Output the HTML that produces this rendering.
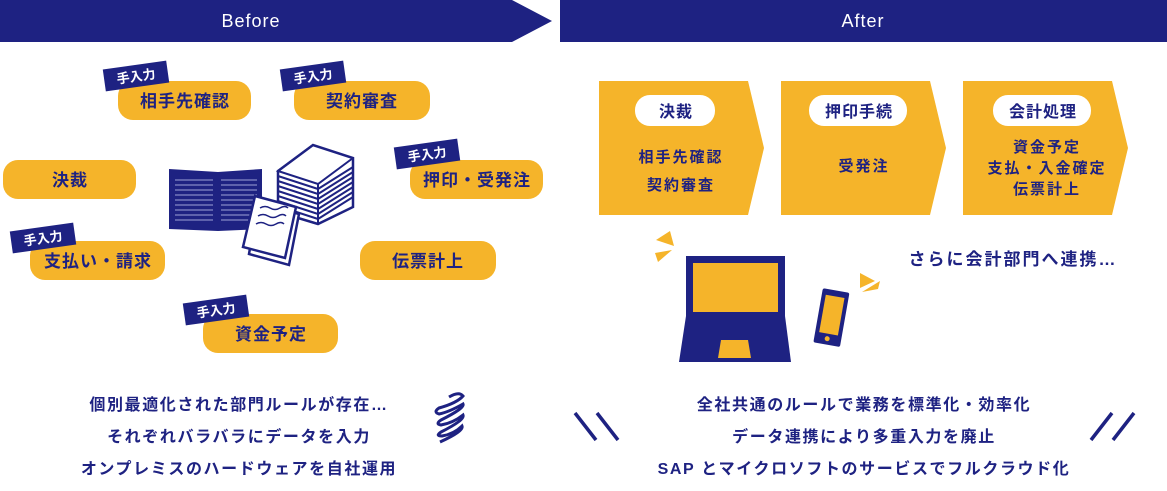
<!DOCTYPE html>
<html><head><meta charset="utf-8"><style>
body{margin:0;width:1167px;height:486px;background:#fff;overflow:hidden}
svg text{font-family:"Liberation Sans","Noto Sans CJK JP",sans-serif;font-weight:700}
svg text.l{font-weight:400}
</style></head><body>
<svg width="1167" height="486" viewBox="0 0 1167 486" xmlns="http://www.w3.org/2000/svg">
<defs><style>.n{fill:#1e2282}.y{fill:#f5b42a}</style></defs>
<polygon class="n" points="0,0 512,0 552,21 512,42 0,42"/>
<text class="l" x="251" y="27" fill="#fff" font-size="18" text-anchor="middle" letter-spacing="1">Before</text>
<rect class="n" x="560" y="0" width="607" height="42"/>
<text class="l" x="863" y="27" fill="#fff" font-size="18" text-anchor="middle" letter-spacing="1">After</text>

<g font-size="17" fill="#1e2282" text-anchor="middle" letter-spacing="1">
<rect class="y" x="118" y="81" width="133" height="39" rx="15"/><text x="185" y="107">相手先確認</text>
<rect class="y" x="294" y="81" width="136" height="39" rx="15"/><text x="362" y="107">契約審査</text>
<rect class="y" x="3" y="160" width="133" height="39" rx="15"/><text x="70" y="186">決裁</text>
<rect class="y" x="410" y="160" width="133" height="39" rx="15"/><text x="477" y="186">押印・受発注</text>
<rect class="y" x="30" y="241" width="135" height="39" rx="15"/><text x="98" y="267">支払い・請求</text>
<rect class="y" x="360" y="241" width="136" height="39" rx="15"/><text x="428" y="267">伝票計上</text>
<rect class="y" x="203" y="314" width="135" height="39" rx="15"/><text x="271" y="340">資金予定</text>
</g>
<g font-size="13" fill="#fff" text-anchor="middle">
<g transform="translate(136,76) rotate(-8)"><rect class="n" x="-32" y="-11" width="64" height="22"/><text y="5">手入力</text></g>
<g transform="translate(313,76) rotate(-8)"><rect class="n" x="-32" y="-11" width="64" height="22"/><text y="5">手入力</text></g>
<g transform="translate(427,154) rotate(-8)"><rect class="n" x="-32" y="-11" width="64" height="22"/><text y="5">手入力</text></g>
<g transform="translate(43,238) rotate(-8)"><rect class="n" x="-32" y="-11" width="64" height="22"/><text y="5">手入力</text></g>
<g transform="translate(216,310) rotate(-8)"><rect class="n" x="-32" y="-11" width="64" height="22"/><text y="5">手入力</text></g>
</g>

<polygon class="n" points="169,169 218,172 262,169 262,229 218,231 169,229"/>
<g stroke="#9fa3d6" stroke-width="1">
<path d="M175,180h38M175,185h38M175,190h38M175,195h38M175,200h38M175,205h38M175,210h38M175,215h38M175,220h38"/>
<path d="M221,180h36M221,185h36M221,190h36M221,195h36M221,200h36M221,205h36M221,210h36M221,215h36M221,220h36"/>
</g>
<g fill="#fff" stroke="#1e2282" stroke-width="2.5">
<polygon points="278,171 313,145 353,158 353,207 318,224 278,212"/>
</g>
<g fill="none" stroke="#1e2282" stroke-width="2">
<path d="M278,176 L318,189 L353,167 M278,181 L318,194 L353,172 M278,186 L318,199 L353,177 M278,191 L318,204 L353,182 M278,196 L318,209 L353,187 M278,201 L318,214 L353,192 M278,206 L318,219 L353,197"/>
<path d="M313,145 L278,171 L318,184 L353,158" />
<line x1="318" y1="184" x2="318" y2="224"/>
</g>
<polygon points="258,202 299,214 289,265 249,254" fill="#fff" stroke="#1e2282" stroke-width="2.5"/>
<polygon points="255,196 296,207 285,258 243,247" fill="#fff" stroke="#1e2282" stroke-width="2.5"/>
<path d="M260,208q5,-3 10,0t10,0t8,0M258,216q5,-3 10,0t10,0t8,0M256,224q5,-3 10,0t10,0t8,0" fill="none" stroke="#1e2282" stroke-width="1.5"/>

<polygon class="y" points="599,81 748,81 764,148 748,215 599,215"/>
<polygon class="y" points="781,81 930,81 946,148 930,215 781,215"/>
<polygon class="y" points="963,81 1112,81 1128,148 1112,215 963,215"/>
<g fill="#fff"><rect x="635" y="95" width="80" height="31" rx="15"/><rect x="809" y="95" width="98" height="31" rx="15"/><rect x="993" y="95" width="98" height="31" rx="15"/></g>
<g font-size="16" fill="#1e2282" text-anchor="middle" letter-spacing="1">
<text x="676" y="117">決裁</text><text x="859" y="117">押印手続</text><text x="1043" y="117">会計処理</text>
</g>
<g font-size="15" fill="#1e2282" text-anchor="middle" letter-spacing="2">
<text x="681" y="162">相手先確認</text><text x="681" y="190">契約審査</text>
<text x="864" y="171">受発注</text>
<text x="1047" y="152">資金予定</text><text x="1047" y="173">支払・入金確定</text><text x="1047" y="194">伝票計上</text>
</g>

<g class="y"><polygon points="656,240 670,231 674,246"/><polygon points="655,253 672,250 658,262"/></g>
<rect class="n" x="686" y="256" width="99" height="64"/>
<rect class="y" x="693" y="263" width="85" height="49"/>
<polygon class="n" points="686,316 785,316 791,362 679,362"/>
<polygon class="y" points="721,340 748,340 751,358 718,358"/>
<g transform="translate(831,317) rotate(10)"><rect class="n" x="-13" y="-27" width="27" height="55" rx="2"/><rect class="y" x="-9" y="-21" width="19" height="38"/><circle class="y" cx="0" cy="22" r="2.5"/></g>
<g class="y"><polygon points="860,273 875,281 860,288"/><polygon points="862,292 880,281 878,289"/></g>
<text x="1013" y="265" font-size="17" fill="#1e2282" text-anchor="middle" letter-spacing="2">さらに会計部門へ連携…</text>

<g font-size="16" fill="#1e2282" text-anchor="middle" letter-spacing="1.6">
<text x="239" y="410">個別最適化された部門ルールが存在…</text>
<text x="239" y="442">それぞれバラバラにデータを入力</text>
<text x="239" y="474">オンプレミスのハードウェアを自社運用</text>
<text x="864" y="410">全社共通のルールで業務を標準化・効率化</text>
<text x="864" y="442">データ連携により多重入力を廃止</text>
<text x="864" y="474">SAP とマイクロソフトのサービスでフルクラウド化</text>
</g>
<path d="M449,397 q10,-6 14,-1 q-6,7 -24,12 q-6,4 0,6 q10,-2 24,-10 q2,4 -22,16 q-6,4 0,5 q12,-2 22,-10 q2,5 -22,17 q-6,4 1,4 q12,-2 20,-10 q2,5 -22,16" fill="none" stroke="#1e2282" stroke-width="3"/>
<path d="M575,413 L596,440 M597,413 L618,440" stroke="#1e2282" stroke-width="3.5"/>
<path d="M1112,413 L1091,440 M1134,413 L1113,440" stroke="#1e2282" stroke-width="3.5"/>
</svg>
</body></html>
